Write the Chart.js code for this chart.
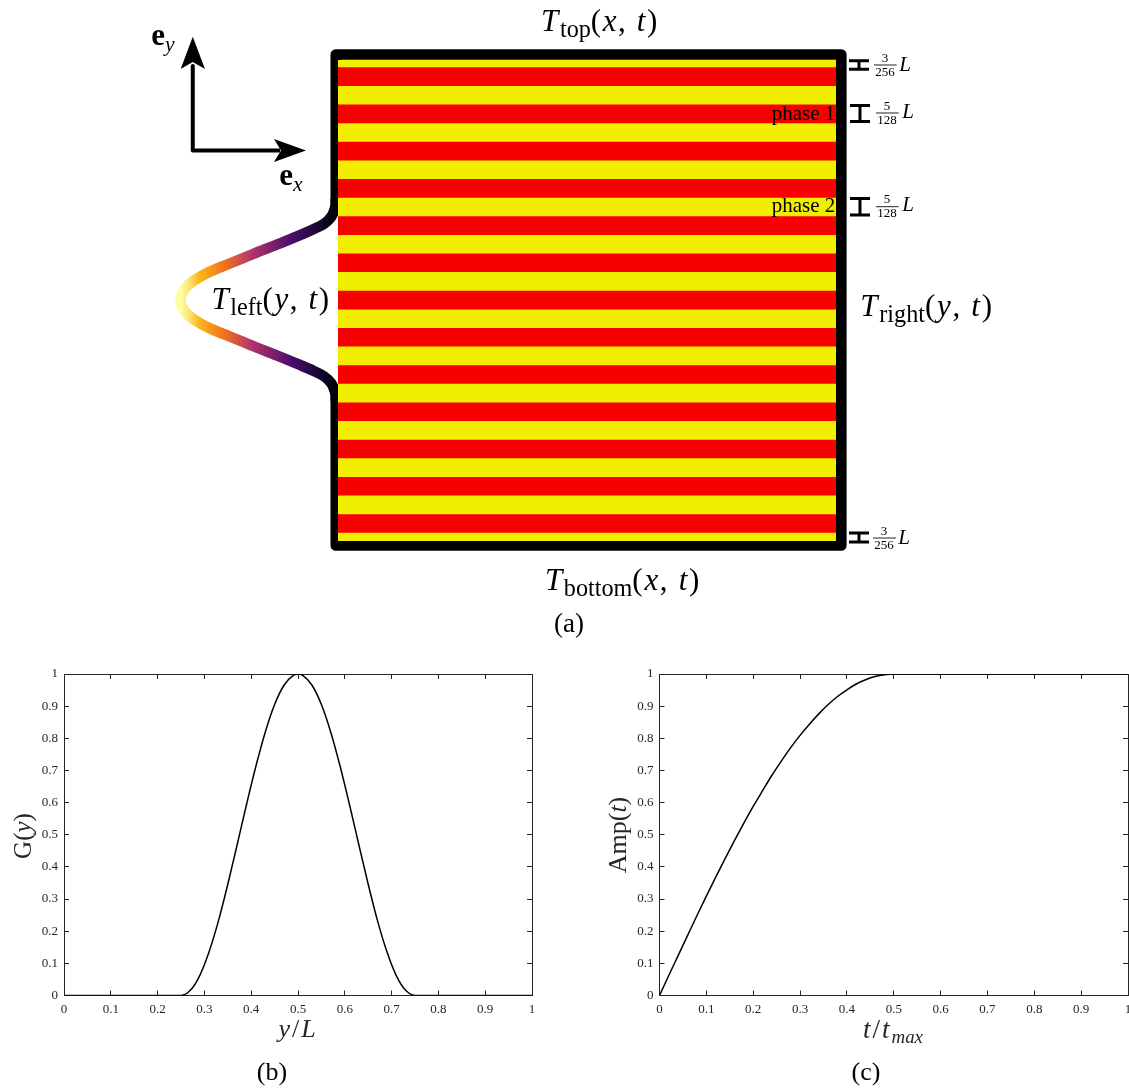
<!DOCTYPE html>
<html>
<head>
<meta charset="utf-8">
<style>
html, body { margin: 0; padding: 0; background: #fff; }
#page { position: relative; width: 1129px; height: 1088px; overflow: hidden; }
canvas { position: absolute; display: block; }
</style>
<script src="https://cdn.jsdelivr.net/npm/chart.js@4"></script>
</head>
<body>
<div id="page">
    <canvas id="schema" width="1129" height="640" style="left:0;top:0"></canvas>
    <canvas id="gChart" width="565" height="448" style="left:0;top:640px"></canvas>
    <canvas id="ampChart" width="564" height="448" style="left:565px;top:640px"></canvas>
</div>
<script>
const tickLabels = ['0', '0.1', '0.2', '0.3', '0.4', '0.5', '0.6', '0.7', '0.8', '0.9', '1'];

// panel (b)
const gX = [0, 0.25, 0.27, 0.29, 0.31, 0.33, 0.35, 0.37, 0.39, 0.41, 0.43, 0.45, 0.47, 0.49, 0.5,
    0.51, 0.53, 0.55, 0.57, 0.59, 0.61, 0.63, 0.65, 0.67, 0.69, 0.71, 0.73, 0.75, 1];
const gY = [0, 0, 0.016, 0.062, 0.136, 0.232, 0.346, 0.469, 0.594, 0.713, 0.819, 0.905, 0.965, 0.996, 1,
    0.996, 0.965, 0.905, 0.819, 0.713, 0.594, 0.469, 0.346, 0.232, 0.136, 0.062, 0.016, 0, 0];

// panel (c)
const ampX = [0, 0.02, 0.04, 0.06, 0.08, 0.1, 0.12, 0.14, 0.16, 0.18, 0.2, 0.22, 0.24, 0.26, 0.28,
    0.3, 0.32, 0.34, 0.36, 0.38, 0.4, 0.42, 0.44, 0.46, 0.48, 0.5, 1];
const ampY = [0, 0.063, 0.125, 0.187, 0.249, 0.309, 0.368, 0.426, 0.482, 0.536, 0.588, 0.637, 0.685, 0.729, 0.771,
    0.809, 0.844, 0.876, 0.905, 0.93, 0.951, 0.969, 0.982, 0.992, 0.998, 1, 1];

// panel (a), in x/L and y/L
const redLow = [0.017, 0.0944, 0.1718, 0.2493, 0.3267, 0.4041, 0.4815, 0.559, 0.6364, 0.7138, 0.7912, 0.8687, 0.9461];
const redHigh = [0.0557, 0.1331, 0.2105, 0.288, 0.3654, 0.4428, 0.5202, 0.5977, 0.6751, 0.7525, 0.8299, 0.9074, 0.9848];

const frameX = [-0.0044, -0.0044, 1.0107, 1.0107, -0.0044, -0.0044];
const frameY = [0.709, 1.0114, 1.0114, -0.0094, -0.0094, 0.293];

const bumpX = [-0.0044, -0.006, -0.0134, -0.0275, -0.0496, -0.0763, -0.1231, -0.17, -0.2169, -0.257, -0.2871, -0.3038, -0.3133, -0.3159,
    -0.3133, -0.3038, -0.2871, -0.257, -0.2169, -0.17, -0.1231, -0.0763, -0.0496, -0.0275, -0.0134, -0.006, -0.0044];
const bumpY = [0.709, 0.692, 0.674, 0.66, 0.648, 0.636, 0.616, 0.597, 0.577, 0.56, 0.543, 0.529, 0.515, 0.501,
    0.487, 0.473, 0.459, 0.442, 0.425, 0.405, 0.386, 0.366, 0.354, 0.342, 0.328, 0.31, 0.293];

const arrowShaftX = [-0.2916, -0.2916, -0.1165];
const arrowShaftY = [0.9875, 0.8119, 0.8119];
const headYX = [-0.2916, -0.3159, -0.2916, -0.2671, -0.2916];
const headYY = [1.0484, 0.9813, 0.9958, 0.9813, 1.0484];
const headXX = [-0.0643, -0.1285, -0.1145, -0.1285, -0.0643];
const headXY = [0.8119, 0.8358, 0.8119, 0.7879, 0.8119];

// size marks at the right: null breaks the line
const beamX = [1.0261, 1.0663, null, 1.0462, 1.0462, null, 1.0261, 1.0663, null,
    1.0281, 1.0683, null, 1.0482, 1.0482, null, 1.0281, 1.0683, null,
    1.0281, 1.0683, null, 1.0482, 1.0482, null, 1.0281, 1.0683, null,
    1.0261, 1.0663, null, 1.0462, 1.0462, null, 1.0261, 1.0663];
const beamY = [0.9985, 0.9985, null, 0.9985, 0.9807, null, 0.9807, 0.9807, null,
    0.9054, 0.9054, null, 0.9054, 0.8721, null, 0.8721, 0.8721, null,
    0.7121, 0.7121, null, 0.7121, 0.6778, null, 0.6778, 0.6778, null,
    0.0166, 0.0166, null, 0.0166, -0.0021, null, -0.0021, -0.0021];
const fracX = [1.0763, 1.1219, null, 1.0803, 1.1259, null, 1.0803, 1.1259, null, 1.0743, 1.1205];
const fracY = [0.9896, 0.9896, null, 0.8898, 0.8898, null, 0.695, 0.695, null, 0.0062, 0.0062];

// inferno colours along the bump, 0 = tip, 1 = wall
const bumpStops = [[0, '#fcffa4'], [0.06, '#fde06a'], [0.12, '#fbb61a'], [0.28, '#f1731d'],
    [0.45, '#b5366b'], [0.72, '#4b0c6b'], [0.93, '#0a0722'], [1, '#000000']];

const SERIF = '"Liberation Serif", serif';
const INK = '#262626';

// page positions, baseline anchored. runs: [text, style]
const schemaLabels = [
    { x: 600, y: 31, size: 31, gap: 1.6, runs: [['T', 'i'], ['top', 's'], ['(', 'r'], ['x', 'i'], [', ', 'r'], ['t', 'i'], [')', 'r']] },
    { x: 271, y: 309, size: 31, gap: 1.6, runs: [['T', 'i'], ['left', 's'], ['(', 'r'], ['y', 'i'], [', ', 'r'], ['t', 'i'], [')', 'r']] },
    { x: 927, y: 316, size: 31, gap: 1.7, runs: [['T', 'i'], ['right', 's'], ['(', 'r'], ['y', 'i'], [', ', 'r'], ['t', 'i'], [')', 'r']] },
    { x: 623, y: 590, size: 31, gap: 1.7, runs: [['T', 'i'], ['bottom', 's'], ['(', 'r'], ['x', 'i'], [', ', 'r'], ['t', 'i'], [')', 'r']] },
    { x: 569, y: 632, size: 27, runs: [['(a)', 'r']] },
    { x: 163, y: 45, size: 31, runs: [['e', 'b'], ['y', 'si']] },
    { x: 291, y: 185, size: 31, runs: [['e', 'b'], ['x', 'si']] },
    { x: 803.5, y: 120, size: 21, runs: [['phase 1', 'r']] },
    { x: 803.5, y: 212, size: 21, runs: [['phase 2', 'r']] },
    { x: 885, y: 62, size: 13, runs: [['3', 'r']] },
    { x: 885, y: 76, size: 13, runs: [['256', 'r']] },
    { x: 905, y: 71, size: 21, runs: [['L', 'i']] },
    { x: 887, y: 110, size: 13, runs: [['5', 'r']] },
    { x: 887, y: 124, size: 13, runs: [['128', 'r']] },
    { x: 908, y: 118, size: 21, runs: [['L', 'i']] },
    { x: 887, y: 203, size: 13, runs: [['5', 'r']] },
    { x: 887, y: 217, size: 13, runs: [['128', 'r']] },
    { x: 908, y: 211, size: 21, runs: [['L', 'i']] },
    { x: 884, y: 535, size: 13, runs: [['3', 'r']] },
    { x: 884, y: 549, size: 13, runs: [['256', 'r']] },
    { x: 904, y: 544, size: 21, runs: [['L', 'i']] }
];
const gLabels = [
    { x: 31, y: 836, size: 25, rot: -Math.PI / 2, color: INK, runs: [['G(', 'r'], ['y', 'i'], [')', 'r']] },
    { x: 298, y: 1037, size: 26, gap: 2, color: INK, runs: [['y', 'i'], ['/', 'r'], ['L', 'i']] },
    { x: 272, y: 1080, size: 26, runs: [['(b)', 'r']] }
];
const ampLabels = [
    { x: 626, y: 835, size: 26, rot: -Math.PI / 2, color: INK, runs: [['Amp(', 'r'], ['t', 'i'], [')', 'r']] },
    { x: 893, y: 1038, size: 27, gap: 2, color: INK, runs: [['t', 'i'], ['/', 'r'], ['t', 'i'], ['max', 'si']] },
    { x: 866, y: 1080, size: 26, runs: [['(c)', 'r']] }
];

function fontFor(style, size) {
    if (style === 'i') return 'italic ' + size + 'px ' + SERIF;
    if (style === 'b') return 'bold ' + size + 'px ' + SERIF;
    if (style === 's') return (size * 0.78) + 'px ' + SERIF;
    if (style === 'si') return 'italic ' + (size * 0.7) + 'px ' + SERIF;
    return size + 'px ' + SERIF;
}

function labelsPlugin(labels) {
    return {
        id: 'mathLabels',
        afterDraw(chart) {
            const ctx = chart.ctx;
            labels.forEach(function (item) {
                ctx.save();
                ctx.translate(item.x - chart.canvas.offsetLeft, item.y - chart.canvas.offsetTop);
                ctx.rotate(item.rot || 0);
                ctx.textBaseline = 'alphabetic';
                ctx.textAlign = 'left';
                ctx.fillStyle = item.color || '#000';
                const setRun = function (run) {
                    ctx.font = fontFor(run[1], item.size);
                    // subscripts keep normal spacing
                    const isSub = run[1] === 's' || run[1] === 'si';
                    ctx.letterSpacing = (isSub ? 0 : (item.gap || 0)) + 'px';
                    return isSub;
                };
                let total = 0;
                item.runs.forEach(function (run) {
                    setRun(run);
                    total += ctx.measureText(run[0]).width;
                });
                let pos = -total / 2;
                item.runs.forEach(function (run) {
                    const drop = setRun(run) ? item.size * 0.2 : 0;
                    ctx.fillText(run[0], pos, drop);
                    pos += ctx.measureText(run[0]).width;
                });
                ctx.restore();
            });
        }
    };
}

function toPoints(xs, ys) {
    return xs.map((x, i) => ({ x: x, y: ys[i] }));
}

function bumpGradient(chart) {
    if (!chart.chartArea) return '#000';
    const xs = chart.scales.x;
    const grad = chart.ctx.createLinearGradient(xs.getPixelForValue(bumpX[13]), 0, xs.getPixelForValue(bumpX[0]), 0);
    bumpStops.forEach(s => grad.addColorStop(s[0], s[1]));
    return grad;
}

const plainLine = { pointRadius: 0, pointHoverRadius: 0, tension: 0, clip: false, spanGaps: false };

const schemaSets = [
    Object.assign({}, plainLine, { data: toPoints(frameX, frameY), borderColor: '#000', borderWidth: 10.6, borderJoinStyle: 'round', borderCapStyle: 'round', order: 50 }),
    Object.assign({}, plainLine, { data: toPoints(bumpX, bumpY), borderColor: ctx => bumpGradient(ctx.chart), borderWidth: 10.6, tension: 0.35, borderCapStyle: 'round', order: 49 }),
    Object.assign({}, plainLine, { data: toPoints([0, 1], [1, 1]), borderWidth: 0, backgroundColor: '#f2ee00', fill: { value: 0 }, order: 40 })
];
redLow.forEach(function (low, i) {
    schemaSets.push(Object.assign({}, plainLine, {
        data: toPoints([0, 1], [redHigh[i], redHigh[i]]),
        borderWidth: 0,
        backgroundColor: '#f70000',
        fill: { value: low },
        order: 30
    }));
});
schemaSets.push(
    Object.assign({}, plainLine, { data: toPoints(arrowShaftX, arrowShaftY), borderColor: '#000', borderWidth: 4, borderJoinStyle: 'round', order: 5 }),
    Object.assign({}, plainLine, { data: toPoints(headYX, headYY), borderColor: '#000', borderWidth: 0, backgroundColor: '#000', fill: 'shape', order: 4 }),
    Object.assign({}, plainLine, { data: toPoints(headXX, headXY), borderColor: '#000', borderWidth: 0, backgroundColor: '#000', fill: 'shape', order: 4 }),
    Object.assign({}, plainLine, { data: toPoints(beamX, beamY), borderColor: '#000', borderWidth: 3, order: 3 }),
    Object.assign({}, plainLine, { data: toPoints(fracX, fracY), borderColor: '#222', borderWidth: 1, order: 3 })
);

new Chart(document.getElementById('schema').getContext('2d'), {
    type: 'line',
    data: { datasets: schemaSets },
    options: {
        responsive: false,
        animation: false,
        events: [],
        layout: { padding: 0 },
        plugins: { legend: { display: false }, tooltip: { enabled: false } },
        scales: {
            x: { type: 'linear', display: false, min: -0.6787, max: 1.5884 },
            y: { type: 'linear', display: false, min: -0.2058, max: 1.1247 }
        }
    },
    plugins: [labelsPlugin(schemaLabels)]
});

function axisScale(axis, position, withLabels) {
    const flat = axis === 'x';
    return {
        type: 'linear',
        axis: axis,
        position: position,
        min: 0,
        max: 1,
        afterFit(scale) {
            // labels are clipped to the scale box, so the labelled axes keep some room
            const room = withLabels ? (flat ? 40 : 60) : 0;
            if (flat) scale.height = room; else scale.width = room;
            scale.paddingLeft = scale.paddingRight = scale.paddingTop = scale.paddingBottom = 0;
        },
        border: { display: true, color: INK, width: 1 },
        grid: { drawOnChartArea: false, drawTicks: true, tickLength: -5, tickColor: INK, tickWidth: 1 },
        ticks: {
            display: withLabels,
            stepSize: 0.1,
            autoSkip: false,
            maxRotation: 0,
            padding: flat ? 11 : 11,
            color: INK,
            font: { family: SERIF, size: 13 },
            callback: (v, i) => tickLabels[i]
        }
    };
}

function lineChart(id, xs, ys, padding, labels) {
    return new Chart(document.getElementById(id).getContext('2d'), {
        type: 'line',
        data: {
            datasets: [{
                data: toPoints(xs, ys),
                borderColor: '#000',
                borderWidth: 1.5,
                pointRadius: 0,
                cubicInterpolationMode: 'monotone'
            }]
        },
        options: {
            responsive: false,
            animation: false,
            events: [],
            layout: { padding: padding },
            plugins: { legend: { display: false }, tooltip: { enabled: false } },
            scales: {
                x: axisScale('x', 'bottom', true),
                y: axisScale('y', 'left', true),
                xTop: axisScale('x', 'top', false),
                yRight: axisScale('y', 'right', false)
            }
        },
        plugins: [labelsPlugin(labels)]
    });
}

lineChart('gChart', gX, gY, { left: 4, right: 33, top: 34, bottom: 52.5 }, gLabels);
lineChart('ampChart', ampX, ampY, { left: 34.5, right: 1, top: 34, bottom: 52.5 }, ampLabels);
</script>
</body>
</html>
